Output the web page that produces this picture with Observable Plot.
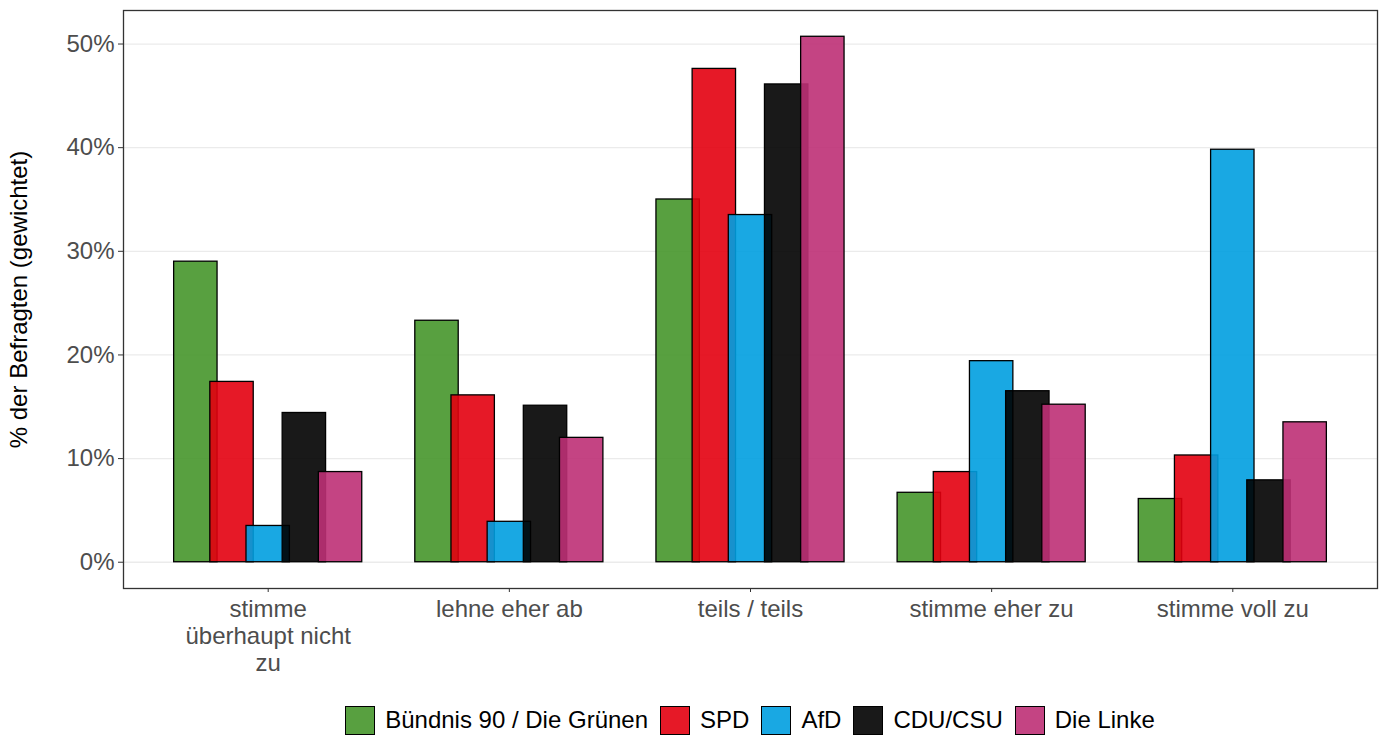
<!DOCTYPE html>
<html>
<head>
<meta charset="utf-8">
<script src="https://cdn.jsdelivr.net/npm/d3@7"></script>
<script src="https://cdn.jsdelivr.net/npm/@observablehq/plot@0.6"></script>
<style>
  html, body { margin: 0; padding: 0; background: #fff; }
  body { width: 1386px; font-family: "Liberation Sans", Arial, sans-serif; }
  #legend { display: flex; justify-content: center; align-items: center; margin-left: 114px; margin-top: 15px; font-size: 24px; color: #000; line-height: 30px; }
  .item { display: flex; align-items: center; margin: 0 6px; }
  .key { width: 30px; height: 29px; box-sizing: border-box; border: 1.3px solid #000; margin-right: 10px; }
</style>
</head>
<body>
<div id="chart"></div>
<div id="legend"></div>
<script>
const categories = ["stimme\nüberhaupt nicht\nzu", "lehne eher ab", "teils / teils", "stimme eher zu", "stimme voll zu"];
const parties = ["Bündnis 90 / Die Grünen", "SPD", "AfD", "CDU/CSU", "Die Linke"];
const colors = ["#46962b", "#e3000f", "#009ee0", "#000000", "#be3075"];
const gruene = [29.0, 23.3, 35.0, 6.7, 6.1];
const spd    = [17.4, 16.1, 47.6, 8.7, 10.3];
const afd    = [3.5, 3.9, 33.5, 19.4, 39.8];
const cdu    = [14.4, 15.1, 46.1, 16.5, 7.9];
const linke  = [8.7, 12.0, 50.7, 15.2, 13.5];
const yTicks = [0, 10, 20, 30, 40, 50];

const series = [gruene, spd, afd, cdu, linke];
const data = [];
series.forEach((vals, j) => vals.forEach((v, i) => data.push({cat: i + 1, party: parties[j], j, value: v})));

const dodge = 0.75 / parties.length;
const barW = 0.9 / parties.length;
const center = d => d.cat + (d.j - (parties.length - 1) / 2) * dodge;
const maxV = d3.max(data, d => d.value);

const plot = Plot.plot({
  width: 1386,
  height: 690,
  marginLeft: 123,
  marginRight: 9,
  marginTop: 10,
  marginBottom: 102,
  style: {fontFamily: "'Liberation Sans', Arial, sans-serif", background: "#fff"},
  x: {domain: [0.4, categories.length + 0.6]},
  y: {domain: [-maxV * 0.05, maxV * 1.05]},
  color: {domain: parties, range: colors},
  marks: [
    Plot.gridY(yTicks, {stroke: "#ebebeb", strokeOpacity: 1, strokeWidth: 1.3}),
    Plot.rectY(data, {
      x1: d => center(d) - barW / 2,
      x2: d => center(d) + barW / 2,
      y1: 0,
      y2: "value",
      fill: "party",
      fillOpacity: 0.9,
      stroke: "#000",
      strokeWidth: 1.3
    }),
    Plot.frame({stroke: "#333", strokeWidth: 1.3}),
    Plot.axisY({ticks: yTicks, tickFormat: d => d + "%", fontSize: 24, tickSize: 5, tickPadding: 4, stroke: "#333", fill: "#4d4d4d", label: null}),
    Plot.axisX({ticks: d3.range(1, categories.length + 1), tickFormat: d => categories[d - 1], fontSize: 24, tickSize: 4, tickPadding: 5, lineHeight: 1.13, stroke: "#333", fill: "#4d4d4d", label: null}),
    Plot.text(["% der Befragten (gewichtet)"], {frameAnchor: "left", textAnchor: "middle", rotate: -90, dx: -104, fontSize: 24, fill: "#000"})
  ]
});
document.getElementById("chart").appendChild(plot);

const legend = document.getElementById("legend");
parties.forEach((p, j) => {
  const item = document.createElement("div");
  item.className = "item";
  const key = document.createElement("div");
  key.className = "key";
  key.style.backgroundColor = d3.color(colors[j]).copy({opacity: 0.9}).formatRgb();
  const label = document.createElement("span");
  label.textContent = p;
  item.appendChild(key);
  item.appendChild(label);
  legend.appendChild(item);
});
</script>
</body>
</html>
